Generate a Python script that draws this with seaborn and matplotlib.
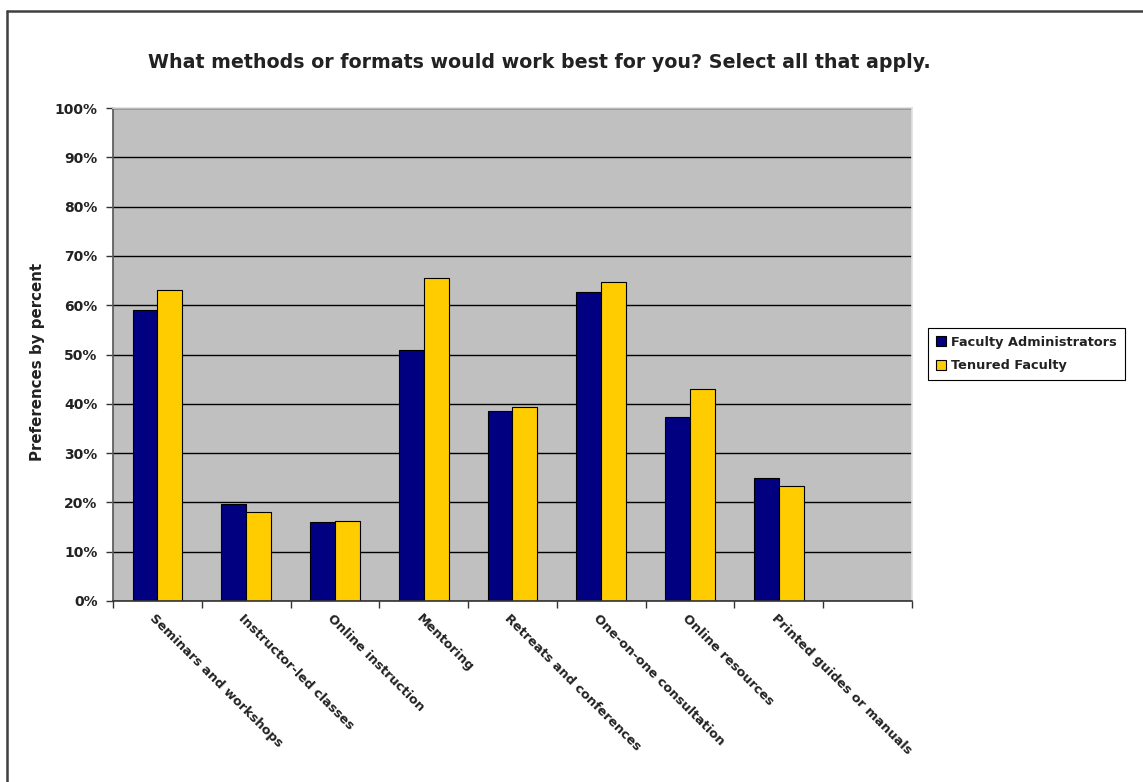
import numpy as np
import pandas as pd
import matplotlib
matplotlib.use("Agg")
import matplotlib.pyplot as plt
import seaborn as sns
from matplotlib.lines import Line2D
from matplotlib.ticker import PercentFormatter, FixedLocator
import matplotlib.transforms as mtransforms

categories = ["Seminars and workshops", "Instructor-led classes", "Online instruction",
              "Mentoring", "Retreats and conferences", "One-on-one consultation",
              "Online resources", "Printed guides or manuals"]
faculty_admin = [0.590, 0.196, 0.160, 0.509, 0.385, 0.627, 0.373, 0.250]
tenured_faculty = [0.631, 0.180, 0.163, 0.656, 0.394, 0.648, 0.430, 0.234]
series_names = ["Faculty Administrators", "Tenured Faculty"]
colors = {"Faculty Administrators": "#000080", "Tenured Faculty": "#FFCC00"}
yticks = [i / 10 for i in range(11)]

df = pd.DataFrame({
    "Method": categories * 2,
    "Series": [series_names[0]] * len(categories) + [series_names[1]] * len(categories),
    "Value": faculty_admin + tenured_faculty,
})

sns.set_theme(style="white")
plt.rcParams["font.family"] = ["DejaVu Sans"]
text_color = "#222222"

W, H = 1143, 782
fig = plt.figure(figsize=(W / 100, H / 100), dpi=100)
ax = fig.add_axes([113 / W, 1 - 601 / H, (912 - 113) / W, (601 - 108) / H])
ax.set_facecolor("#C0C0C0")

sns.barplot(data=df, x="Method", y="Value", hue="Series", order=categories,
            hue_order=series_names, palette=colors, width=0.56, gap=0, saturation=1,
            edgecolor="black", linewidth=0.8, ax=ax, legend=False)

ax.set_xlim(-0.5, 8.5)
ax.set_ylim(0, 1)
ax.set_yticks(yticks)
ax.yaxis.set_major_formatter(PercentFormatter(1.0, decimals=0))
ax.yaxis.grid(True, color="black", linewidth=1)
ax.xaxis.grid(False)
ax.set_axisbelow(True)
ax.set_xlabel("")
ax.set_ylabel("")

# category boundary ticks
ax.xaxis.set_minor_locator(FixedLocator(np.arange(-0.5, 9.0, 1.0)))
ax.tick_params(axis="x", which="minor", length=5, width=1, color="#333333", direction="out", bottom=True)
ax.tick_params(axis="x", which="major", length=0, pad=2)
ax.tick_params(axis="y", which="major", length=5, width=1, color="#333333", direction="out", left=True,
               labelsize=10, labelcolor=text_color, pad=6)
for lab in ax.get_yticklabels():
    lab.set_fontweight("bold")

ax.set_xticks(range(len(categories)))
ax.set_xticklabels(categories, rotation=-45, ha="left", va="top", rotation_mode="anchor",
                   fontsize=9.3, fontweight="bold", color=text_color)
offset = mtransforms.ScaledTranslation(-1 / 100, -8 / 100, fig.dpi_scale_trans)
for lab in ax.get_xticklabels():
    lab.set_transform(lab.get_transform() + offset)

for side in ["top", "right"]:
    ax.spines[side].set_color("#E0E0E0")
    ax.spines[side].set_linewidth(1.2)
ax.spines["left"].set_color("#555555")
ax.spines["left"].set_linewidth(1.2)
ax.spines["bottom"].set_color("#333333")
ax.spines["bottom"].set_linewidth(1.2)

fig.text(539 / W, 1 - 62 / H, "What methods or formats would work best for you? Select all that apply.",
         ha="center", va="center", fontsize=13.7, fontweight="bold", color=text_color)
fig.text(38 / W, 1 - 362 / H, "Preferences by percent", rotation=90, ha="center", va="center",
         fontsize=10.8, fontweight="bold", color=text_color)

handles = [plt.Rectangle((0, 0), 1, 1, facecolor=colors[s], edgecolor="black", linewidth=0.8)
           for s in series_names]
leg = fig.legend(handles, series_names, loc="upper left", bbox_to_anchor=(928 / W, 1 - 328 / H),
                 frameon=True, fancybox=False, edgecolor="black", framealpha=1,
                 handlelength=0.8, handleheight=0.8, handletextpad=0.4, borderpad=0.6,
                 labelspacing=0.8, prop={"size": 9.3, "weight": "bold"}, borderaxespad=0)
leg.get_frame().set_linewidth(0.8)
for t in leg.get_texts():
    t.set_color(text_color)

# outer chart border (top and left edges visible)
fig.add_artist(Line2D([7 / W, 1.0], [1 - 11 / H, 1 - 11 / H], color="#404040", linewidth=1.8,
                      transform=fig.transFigure))
fig.add_artist(Line2D([7 / W, 7 / W], [0.0, 1 - 11 / H], color="#404040", linewidth=1.8,
                      transform=fig.transFigure))

fig.savefig("out.png", dpi=100, facecolor="white")
